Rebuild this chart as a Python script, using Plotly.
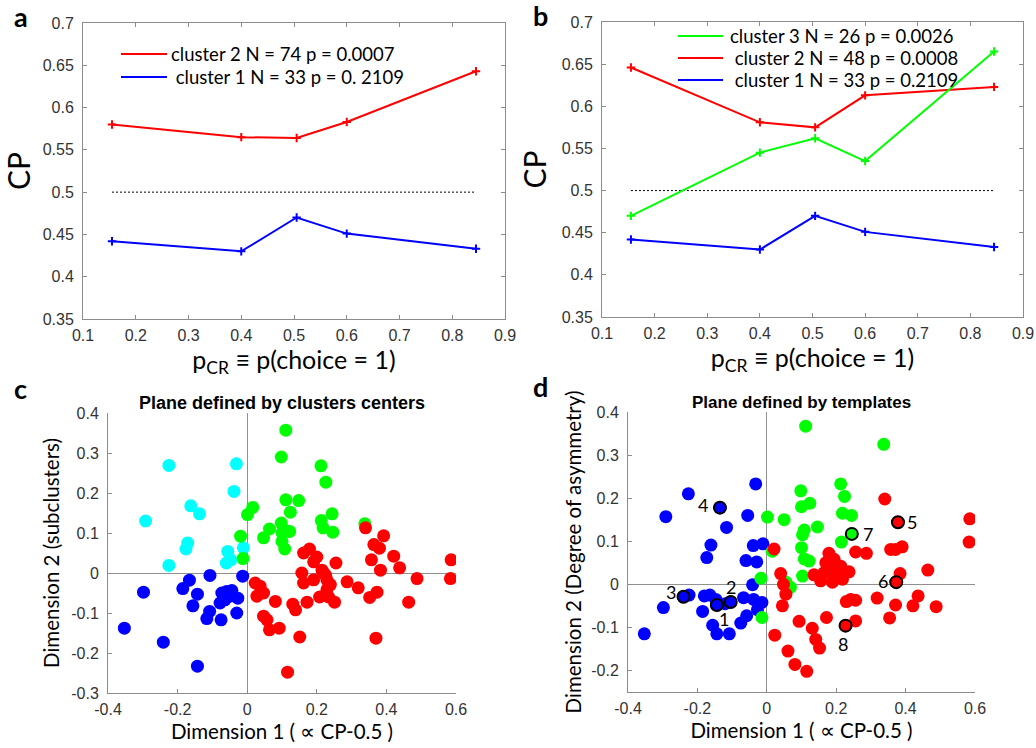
import plotly.graph_objects as go

# ---- panels a / b : CP as a function of p(choice = 1) ----
p_cr = [0.155, 0.4, 0.505, 0.6, 0.845]
cp_a_cluster2 = [0.580, 0.565, 0.564, 0.583, 0.643]
cp_a_cluster1 = [0.442, 0.430, 0.470, 0.451, 0.433]
cp_b_cluster3 = [0.470, 0.545, 0.562, 0.535, 0.665]
cp_b_cluster2 = [0.646, 0.581, 0.575, 0.613, 0.623]
cp_b_cluster1 = [0.442, 0.430, 0.470, 0.451, 0.433]
chance_level = 0.5

legend_a = ["cluster 2 N = 74 p = 0.0007", "\u00a0cluster 1 N = 33 p = 0. 2109"]
legend_b = ["cluster 3 N = 26 p = 0.0026", "\u00a0cluster 2 N = 48 p = 0.0008",
            "\u00a0cluster 1 N = 33 p = 0.2109"]

# ---- panel c : plane defined by cluster centers ----
c_blue_x = [-0.353, -0.298, -0.241, -0.143, -0.185, -0.166, -0.143, -0.156, -0.107, -0.108,
            -0.116, -0.075, -0.078, -0.073, -0.059, -0.044, -0.027, -0.064, -0.030, -0.013, -0.050]
c_blue_y = [-0.138, -0.048, -0.173, -0.233, -0.039, -0.018, -0.053, -0.082, -0.006, -0.096,
            -0.114, -0.117, -0.075, -0.050, -0.046, -0.044, -0.063, -0.067, -0.100, -0.008, -0.058]
c_cyan_x = [-0.225, -0.031, -0.038, -0.162, -0.137, -0.292, -0.171, -0.176, -0.056, -0.047,
            -0.060, -0.011, -0.225]
c_cyan_y = [0.269, 0.273, 0.204, 0.168, 0.148, 0.130, 0.075, 0.060, 0.054, 0.033,
            0.025, 0.063, 0.019]
c_green_x = [0.111, 0.098, 0.212, 0.226, 0.111, 0.148, 0.124, 0.016, 0.001, 0.213, 0.244, 0.098,
             0.105, 0.122, 0.218, 0.246, 0.064, 0.047, 0.100, 0.108, -0.019, -0.012, 0.338, 0.100]
c_green_y = [0.357, 0.290, 0.268, 0.227, 0.183, 0.181, 0.152, 0.164, 0.146, 0.131, 0.148, 0.125,
             0.108, 0.104, 0.113, 0.102, 0.110, 0.088, 0.079, 0.060, 0.092, 0.036, 0.123, 0.100]
c_red_x = [0.340, 0.392, 0.364, 0.380, 0.357, 0.421, 0.383, 0.438, 0.488, 0.586, 0.584, 0.464,
           0.373, 0.352, 0.370, 0.287, 0.319, 0.255, 0.251, 0.234, 0.208, 0.229, 0.239, 0.229,
           0.220, 0.215, 0.191, 0.179, 0.162, 0.191, 0.157, 0.162, 0.172, 0.131, 0.139, 0.151,
           0.116, 0.092, 0.064, 0.057, 0.047, 0.081, 0.023, 0.037, 0.028, 0.047, 0.200, 0.225]
c_red_y = [0.113, 0.093, 0.071, 0.062, 0.033, 0.042, 0.007, 0.013, -0.014, 0.033, -0.014, -0.073,
           -0.048, -0.061, -0.163, -0.022, -0.037, 0.025, -0.073, -0.060, -0.060, -0.042, -0.029,
           -0.017, 0.000, 0.007, 0.028, 0.060, 0.050, -0.017, 0.000, -0.025, -0.073, -0.078,
           -0.092, -0.160, -0.248, -0.138, -0.142, -0.117, -0.108, -0.071, -0.025, -0.033,
           -0.058, -0.050, 0.040, -0.005]

# ---- panel d : plane defined by templates ----
d_blue_x = [-0.353, -0.298, -0.291, -0.226, -0.135, -0.116, -0.161, -0.173, -0.032, -0.055,
            -0.039, -0.011, -0.060, -0.029, -0.041, -0.240, -0.224, -0.180, -0.164, -0.147,
            -0.144, -0.104, -0.185, -0.156, -0.144, -0.108, -0.075, -0.058, -0.067, -0.038,
            -0.014, -0.027, -0.120]
d_blue_y = [-0.115, -0.054, 0.157, 0.210, 0.178, 0.132, 0.091, 0.062, 0.233, 0.160,
            0.090, 0.094, 0.055, 0.052, -0.001, -0.029, -0.025, -0.027, -0.025, -0.035,
            -0.048, -0.041, -0.063, -0.095, -0.115, -0.115, -0.090, -0.073, -0.031, -0.035,
            -0.042, -0.059, -0.045]
d_green_x = [0.112, 0.337, 0.213, 0.224, 0.098, 0.100, 0.124, 0.146, 0.108, 0.103, 0.218, 0.244,
             0.245, 0.215, 0.050, 0.002, 0.100, 0.108, 0.122, 0.103, -0.017, -0.014, 0.016,
             0.068, 0.055]
d_green_y = [0.367, 0.325, 0.233, 0.204, 0.217, 0.180, 0.188, 0.133, 0.126, 0.115, 0.165, 0.160,
             0.117, 0.098, 0.150, 0.156, 0.085, 0.059, 0.054, 0.019, 0.014, -0.077, 0.077,
             -0.007, 0.005]
d_red_x = [0.340, 0.378, 0.585, 0.583, 0.357, 0.371, 0.390, 0.256, 0.287, 0.464, 0.384, 0.373,
           0.318, 0.436, 0.371, 0.421, 0.488, 0.354, 0.227, 0.256, 0.229, 0.242, 0.256, 0.179,
           0.194, 0.184, 0.170, 0.213, 0.237, 0.218, 0.194, 0.165, 0.136, 0.155, 0.189, 0.218,
           0.172, 0.093, 0.131, 0.141, 0.152, 0.061, 0.081, 0.115, 0.021, 0.040, 0.048, 0.055,
           0.045, 0.023]
d_red_y = [0.198, 0.144, 0.152, 0.098, 0.081, 0.081, 0.087, 0.075, 0.072, 0.033, 0.025, 0.005,
           -0.032, -0.027, -0.048, -0.050, -0.052, -0.078, -0.096, -0.085, -0.040, -0.035, -0.037,
           0.072, 0.058, 0.046, 0.050, 0.042, 0.029, 0.020, 0.022, 0.027, 0.022, 0.008, 0.005,
           0.012, -0.077, -0.086, -0.102, -0.128, -0.148, -0.155, -0.186, -0.202, 0.082, 0.025,
           0.000, -0.023, -0.050, -0.118]

# highlighted template neurons: label, x, y, cluster (1 blue, 2 red, 3 green)
template_labels = ["1", "2", "3", "4", "5", "6", "7", "8"]
template_x = [-0.144, -0.104, -0.240, -0.135, 0.378, 0.373, 0.245, 0.227]
template_y = [-0.048, -0.041, -0.029, 0.178, 0.144, 0.005, 0.117, -0.096]
template_cluster = [1, 1, 1, 1, 2, 2, 3, 2]

RED, BLUE, GREEN, CYAN = "#ff0000", "#0000ff", "#00ff00", "#00ffff"
CLUSTER_COLOR = {1: BLUE, 2: RED, 3: GREEN}
SANS = "Liberation Sans, Arial, sans-serif"
HUMAN = "Lato, Open Sans, sans-serif"
W, H = 1036, 748
DOT = 13

fig = go.Figure()


def cp_line(x, y, color, xa, ya):
    fig.add_trace(go.Scatter(
        x=x, y=y, mode="lines+markers", xaxis=xa, yaxis=ya, showlegend=False,
        line=dict(color=color, width=2),
        marker=dict(symbol="cross-thin", size=6, line=dict(color=color, width=2))))


def chance_line(xa, ya):
    fig.add_trace(go.Scatter(
        x=[p_cr[0], p_cr[-1]], y=[chance_level, chance_level], mode="lines",
        xaxis=xa, yaxis=ya, showlegend=False,
        line=dict(color="black", width=1, dash="2px,2px")))


def dots(x, y, color, xa, ya):
    fig.add_trace(go.Scatter(
        x=x, y=y, mode="markers", xaxis=xa, yaxis=ya, showlegend=False,
        marker=dict(color=color, size=DOT, line=dict(width=0))))


# panel a
chance_line("x", "y")
cp_line(p_cr, cp_a_cluster2, RED, "x", "y")
cp_line(p_cr, cp_a_cluster1, BLUE, "x", "y")

# panel b
chance_line("x2", "y2")
cp_line(p_cr, cp_b_cluster2, RED, "x2", "y2")
cp_line(p_cr, cp_b_cluster3, GREEN, "x2", "y2")
cp_line(p_cr, cp_b_cluster1, BLUE, "x2", "y2")

# panel c
dots(c_blue_x, c_blue_y, BLUE, "x3", "y3")
dots(c_cyan_x, c_cyan_y, CYAN, "x3", "y3")
dots(c_green_x, c_green_y, GREEN, "x3", "y3")
dots(c_red_x, c_red_y, RED, "x3", "y3")

# panel d
dots(d_blue_x, d_blue_y, BLUE, "x4", "y4")
dots(d_green_x, d_green_y, GREEN, "x4", "y4")
dots(d_red_x, d_red_y, RED, "x4", "y4")
fig.add_trace(go.Scatter(
    x=template_x, y=template_y, mode="markers", xaxis="x4", yaxis="y4", showlegend=False,
    marker=dict(color=[CLUSTER_COLOR[c] for c in template_cluster], size=DOT - 1,
                line=dict(color="black", width=2))))

# label offsets (pixels) for the template numbers
label_shift = {"1": (7, -14), "2": (0, 15), "3": (-13, 5), "4": (-17, 3),
               "5": (14, 0), "6": (-13, 1), "7": (16, 0), "8": (-3, -18)}
annotations = []
for lab, tx, ty in zip(template_labels, template_x, template_y):
    dx, dy = label_shift[lab]
    annotations.append(dict(x=tx, y=ty, xref="x4", yref="y4", text=lab, showarrow=False,
                            xshift=dx, yshift=dy, font=dict(family=HUMAN, size=18, color="black")))


def px(xp):
    return xp / W


def py(yp):
    return 1 - yp / H


# panel letters
for letter, (lx, ly) in zip("abcd", [(21, 17), (540, 16), (20, 388), (540, 387)]):
    annotations.append(dict(x=px(lx), y=py(ly), xref="paper", yref="paper", text=f"<b>{letter}</b>",
                            showarrow=False, xanchor="center", yanchor="middle",
                            font=dict(family=HUMAN, size=27, color="black")))

# panel titles for c / d
annotations.append(dict(x=px(282), y=py(403), xref="paper", yref="paper",
                        text="<b>Plane defined by clusters centers</b>", showarrow=False,
                        xanchor="center", yanchor="middle",
                        font=dict(family=SANS, size=18, color="black")))
annotations.append(dict(x=px(801), y=py(402), xref="paper", yref="paper",
                        text="<b>Plane defined by templates</b>", showarrow=False,
                        xanchor="center", yanchor="middle",
                        font=dict(family=SANS, size=17, color="black")))

# legends drawn as line samples + text
shapes = []


def legend_block(labels, colors, x0, x1, tx, ys):
    for lab, col, yy in zip(labels, colors, ys):
        shapes.append(dict(type="line", xref="paper", yref="paper", x0=px(x0), x1=px(x1),
                           y0=py(yy), y1=py(yy), line=dict(color=col, width=2)))
        annotations.append(dict(x=px(tx), y=py(yy), xref="paper", yref="paper", text=lab,
                                showarrow=False, xanchor="left", yanchor="middle",
                                font=dict(family=HUMAN, size=18.5, color="black")))


legend_block(legend_a, [RED, BLUE], 121, 167, 169, [54, 77])
legend_block(legend_b, [GREEN, RED, BLUE], 678, 723, 728, [36, 58, 80])

AX_GREY = "#8c8c8c"
tick_font = dict(family=SANS, size=16, color="#333333")


def axis(domain, rng, vals, texts, mirror, anchor, title, title_size, standoff,
         zeroline=False, label_gap=2):
    return dict(domain=domain, range=rng, tickmode="array", tickvals=vals, ticktext=texts,
                showline=True, linecolor=AX_GREY, linewidth=1, mirror=mirror,
                ticks="inside", ticklen=4, tickcolor=AX_GREY, tickwidth=1,
                tickfont=tick_font, ticklabelstandoff=label_gap,
                showgrid=False, zeroline=zeroline, anchor=anchor, automargin=False,
                zerolinecolor="#909090", zerolinewidth=1, fixedrange=True,
                title=dict(text=title, standoff=standoff,
                           font=dict(family=HUMAN, size=title_size, color="black")))


x_ab_vals = [0.1, 0.2, 0.3, 0.4, 0.5, 0.6, 0.7, 0.8, 0.9]
x_ab_text = ["0.1", "0.2", "0.3", "0.4", "0.5", "0.6", "0.7", "0.8", "0.9"]
y_ab_vals = [0.35, 0.4, 0.45, 0.5, 0.55, 0.6, 0.65, 0.7]
y_ab_text = ["0.35", "0.4", "0.45", "0.5", "0.55", "0.6", "0.65", "0.7"]
x_cd_vals = [-0.4, -0.2, 0, 0.2, 0.4, 0.6]
x_cd_text = ["-0.4", "-0.2", "0", "0.2", "0.4", "0.6"]
y_c_vals = [-0.3, -0.2, -0.1, 0, 0.1, 0.2, 0.3, 0.4]
y_c_text = ["-0.3", "-0.2", "-0.1", "0", "0.1", "0.2", "0.3", "0.4"]
y_d_vals = [-0.2, -0.1, 0, 0.1, 0.2, 0.3, 0.4]
y_d_text = ["-0.2", "-0.1", "0", "0.1", "0.2", "0.3", "0.4"]

xtitle_ab = "p<sub>CR</sub> \u2261 p(choice = 1)"
xtitle_cd = "Dimension 1 ( \u221d CP-0.5 )"

fig.update_layout(
    template="none",
    width=W, height=H, margin=dict(l=0, r=0, t=0, b=0, autoexpand=False),
    paper_bgcolor="white", plot_bgcolor="white", showlegend=False,
    xaxis=axis([px(83), px(505)], [0.1, 0.9], x_ab_vals, x_ab_text, "ticks", "y",
               xtitle_ab, 25, 1),
    yaxis=axis([py(319), py(23)], [0.35, 0.7], y_ab_vals, y_ab_text, "ticks", "x",
               "CP", 30, 6, label_gap=5),
    xaxis2=axis([px(602), px(1023)], [0.1, 0.9], x_ab_vals, x_ab_text, "ticks", "y2",
                xtitle_ab, 25, 1),
    yaxis2=axis([py(317), py(22)], [0.35, 0.7], y_ab_vals, y_ab_text, "ticks", "x2",
                "CP", 30, 6, label_gap=5),
    xaxis3=axis([px(108), px(456)], [-0.4, 0.6], x_cd_vals, x_cd_text, False, "y3",
                xtitle_cd, 20.5, 7, zeroline=True),
    yaxis3=axis([py(693), py(413)], [-0.3, 0.4], y_c_vals, y_c_text, False, "x3",
                "Dimension 2 (subclusters)", 20.5, 6, zeroline=True, label_gap=5),
    xaxis4=axis([px(628), px(975)], [-0.4, 0.6], x_cd_vals, x_cd_text, False, "y4",
                xtitle_cd, 20.5, 7, zeroline=True),
    yaxis4=axis([py(692), py(412)], [-0.25, 0.4], y_d_vals, y_d_text, False, "x4",
                "Dimension 2 (Degree of asymmetry)", 20.5, 4, zeroline=True, label_gap=5),
    annotations=annotations, shapes=shapes,
)

fig.write_html("out.html")
